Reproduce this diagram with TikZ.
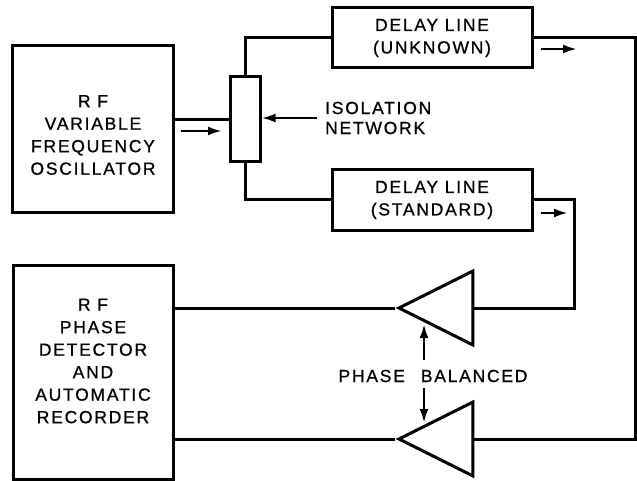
\documentclass[tikz,border=0pt]{standalone}
\usepackage{fontspec}
\usepackage{tikz}
\usetikzlibrary{shapes.geometric,arrows.meta}
\newfontfamily\lblfont[LetterSpace=10,FakeBold=0.8]{Liberation Sans}

\begin{document}
\begin{tikzpicture}[x=1pt,y=-1pt,
  wire/.style={line width=3pt},
  blk/.style={draw,line width=3pt,inner sep=0pt},
  txt/.style={align=center,inner sep=0pt,font=\lblfont\fontsize{17.5}{22.5}\selectfont},
  amp/.style={draw,line width=3pt,isosceles triangle,isosceles triangle stretches,
    shape border rotate=180,minimum width=74pt,minimum height=74pt,inner sep=0pt,anchor=apex},
  sig/.style={line width=2.6pt,-{Latex[length=14pt,width=9pt]}},
  lbl/.style={font=\lblfont\fontsize{17.5}{20}\selectfont,align=left,inner sep=0pt}]

% 边界
\useasboundingbox (0,0) rectangle (637,481);

% 方框
\node[blk,minimum width=161pt,minimum height=167pt] (vfo) at (92.5,129.5) {};
\node[txt] (vfotxt) at (93,135) {R F\\VARIABLE\\FREQUENCY\\OSCILLATOR};
\node[blk,minimum width=30pt,minimum height=85pt] (iso) at (245,119.5) {};
\node[blk,txt,minimum width=200pt,minimum height=60pt] (unk) at (432,38) {DELAY LINE\\(UNKNOWN)};
\node[blk,txt,minimum width=200pt,minimum height=60pt] (std) at (432,200) {DELAY LINE\\(STANDARD)};
\node[blk,minimum width=160pt,minimum height=214pt] (det) at (93,372) {};
\node[txt] (dettxt) at (93,361) {R F\\PHASE\\DETECTOR\\AND\\AUTOMATIC\\RECORDER};

% 放大器
\node[amp] (ampa) at (395,308) {};
\node[amp] (ampb) at (395,439) {};

% 连线
\coordinate (rgt) at (635,0);
\coordinate (mid) at (574,0);
\draw[wire] (vfo.east |- iso.west) -- (iso.west);
\draw[wire] (iso.north) |- (unk.west);
\draw[wire] (iso.south) |- (std.west);
\draw[wire] (unk.east) -| (rgt |- ampb.east) -- (ampb.east);
\draw[wire] (std.east) -| (mid |- ampa.east) -- (ampa.east);
\draw[wire] (ampa.apex) -- (ampa.apex -| det.east);
\draw[wire] (ampb.apex) -- (ampb.apex -| det.east);

% 信号方向
\draw[sig] (181,131) -- (222,131);
\draw[sig] (541,49) -- (577,49);
\draw[sig] (541,213) -- (568,213);

% 隔离网络标注
\node[lbl,anchor=west] (isolbl) at (325,118) {ISOLATION\\NETWORK};
\draw[sig] ([xshift=-8pt]isolbl.west) -- (iso.east |- isolbl.west);

% 相位平衡标注
\node[lbl] (bal) at (433,376) {PHASE\hspace{16pt}BALANCED};
\draw[sig] (424,360) -- (424,324);
\draw[sig] (424,388) -- (424,423);

\end{tikzpicture}
\end{document}
